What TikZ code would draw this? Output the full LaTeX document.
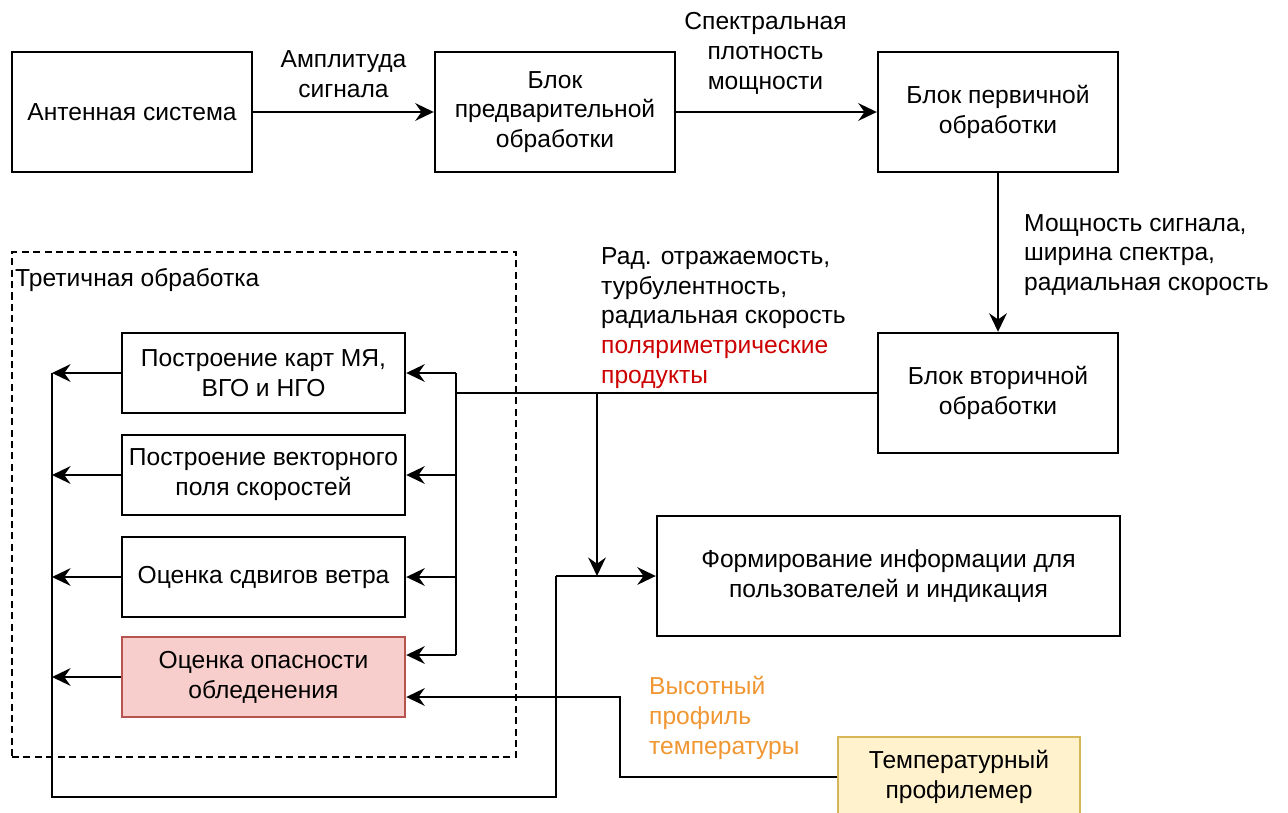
\documentclass[tikz,border=0pt]{standalone}
\usepackage{fontspec}
\setmainfont{Liberation Sans}
\usetikzlibrary{arrows.meta, calc}
\definecolor{icefill}{HTML}{F8CECC}
\definecolor{iceline}{HTML}{B85450}
\definecolor{proffill}{HTML}{FFF2CC}
\definecolor{profline}{HTML}{D6B656}
\definecolor{polred}{HTML}{CC0000}
\definecolor{temporange}{RGB}{240,150,50}
\begin{document}
\begin{tikzpicture}[x=0.02cm, y=-0.02cm, line width=1.4pt,
    font=\fontsize{14}{17}\selectfont]
      \tikzstyle{block}=[draw, rectangle, minimum width=4.8cm, minimum height=2.4cm, align=center, inner sep=2pt]
      \tikzstyle{task}=[block, minimum width=5.66cm, minimum height=1.6cm]
      \tikzstyle{annot}=[align=left, inner sep=0pt]
      \tikzstyle{flow}=[-{Stealth[length=10.5pt, width=10pt, inset=3.5pt]}]

      \useasboundingbox (0,0) rectangle (1288,812);

      % main chain
      \node[block] (ant) at (132,112) {Антенная система};
      \node[block] (pre) at (555,112) {Блок\\предварительной\\обработки};
      \node[block] (prim) at (998,112) {Блок первичной\\обработки};
      \node[block] (sec) at (998,393) {Блок вторичной\\обработки};
      \node[block, minimum width=9.26cm] (out) at (888.5,576) {Формирование информации для\\пользователей и индикация};
      \node[block, fill=proffill, draw=profline, minimum width=4.84cm, minimum height=1.6cm] (prof) at (959,777) {Температурный\\профилемер};

      % tertiary processing
      \node[draw, dash pattern=on 4pt off 2.5pt, line width=1pt, minimum width=10.08cm, minimum height=10.1cm] (tert) at (264,504.5) {};
      \node[annot, anchor=west] (tertlbl) at (14,280) {Третичная обработка};
      \node[task] (maps) at (263.5,373) {Построение карт МЯ,\\ВГО и НГО};
      \node[task] (vec) at (263.5,475) {Построение векторного\\поля скоростей};
      \node[task] (shear) at (263.5,577) {Оценка сдвигов ветра};
      \node[task, fill=icefill, draw=iceline] (ice) at (263.5,677) {Оценка опасности\\обледенения};

      % labels
      \node[annot, anchor=west] (seclbl) at (600,318) {Рад. отражаемость,\\турбулентность,\\радиальная скорость\\\textcolor{polred}{поляриметрические}\\\textcolor{polred}{продукты}};
      \node[annot, anchor=west] (primlbl) at (1023,255) {Мощность сигнала,\\ширина спектра,\\радиальная скорость};
      \node[annot, anchor=west, text=temporange] (proflbl) at (648,718) {Высотный\\профиль\\температуры};

      \coordinate (bus) at (456,393);
      \coordinate (tap) at (597,393);
      \coordinate (merge) at (556,576);
      \coordinate (ret) at (52,797);
      \coordinate (bend) at (620,697);
      \coordinate (iceA) at ($(ice.east)+(0,-22)$);
      \coordinate (iceB) at ($(ice.east)+(0,20)$);

      \draw[flow] (ant) -- node[above=4pt, align=center] {Амплитуда\\сигнала} (pre);
      \draw[flow] (pre) -- node[above=6pt, xshift=-0.22cm, align=center] {Спектральная\\плотность\\мощности} (prim);
      \draw[flow] (prim) -- (sec);

      \draw (sec.west) -- (bus);
      \draw (bus |- maps.east) -- (bus |- iceA);
      \foreach \n in {maps, vec, shear}
        \draw[flow] (bus |- \n.east) -- (\n.east);
      \draw[flow] (bus |- iceA) -- (iceA);
      \draw[flow] (tap) -- (tap |- out.west);

      \draw[flow] (merge) -- (out.west);
      \draw (merge) -- (merge |- ret) -- (ret) -- (ret |- maps.west);
      \foreach \n in {maps, vec, shear, ice}
        \draw[flow] (\n.west) -- (ret |- \n.west);

      \draw[flow] (prof.west) -| (bend) -- (iceB);
  \end{tikzpicture}
\end{document}
